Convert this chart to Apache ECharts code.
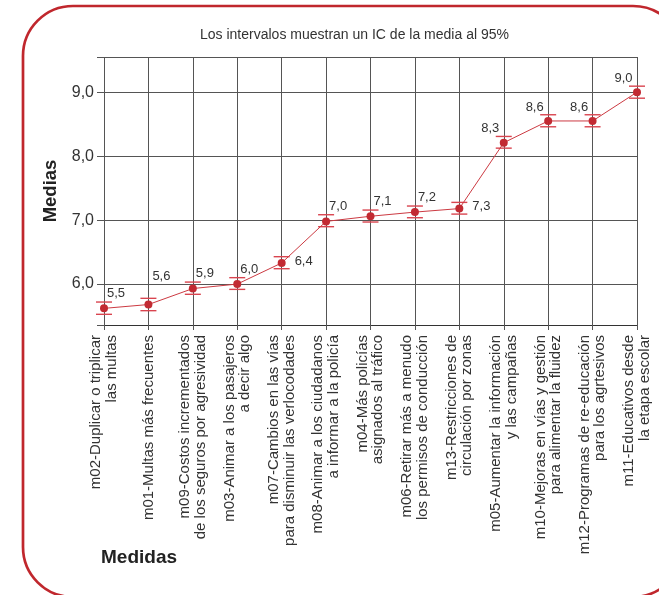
<!DOCTYPE html>
<html><head><meta charset="utf-8">
<script src="https://cdn.jsdelivr.net/npm/echarts@6/dist/echarts.min.js"></script>
<style>html,body{margin:0;padding:0;background:#fff;overflow:hidden}#c{width:659px;height:595px}</style>
</head><body><div id="c"></div>
<script>
const categories = [
  'm02-Duplicar o triplicar\nlas multas',
  'm01-Multas más frecuentes',
  'm09-Costos incrementados\nde los seguros por agresividad',
  'm03-Animar a los pasajeros\na decir algo',
  'm07-Cambios en las vías\npara disminuir las verlocodades',
  'm08-Animar a los ciudadanos\na informar a la policía',
  'm04-Más policías\nasignados al tráfico',
  'm06-Retirar más a menudo\nlos permisos de conducción',
  'm13-Restricciones de\ncirculación por zonas',
  'm05-Aumentar la información\ny las campañas',
  'm10-Mejoras en vías y gestión\npara alimentar la fluidez',
  'm12-Programas de re-educación\npara los agrtesivos',
  'm11-Educativos desde\nla etapa escolar'
];
const means = [5.62, 5.68, 5.93, 6.00, 6.33, 6.98, 7.06, 7.125, 7.18, 8.21, 8.55, 8.55, 9.00];
const ciLow = [5.527, 5.584, 5.84, 5.917, 6.24, 6.897, 6.97, 7.037, 7.094, 8.125, 8.459, 8.459, 8.906];
const ciHigh = [5.719, 5.777, 6.031, 6.10, 6.428, 7.084, 7.157, 7.22, 7.277, 8.308, 8.647, 8.647, 9.094];
const meanLabels = ['5,5', '5,6', '5,9', '6,0', '6,4', '7,0', '7,1', '7,2', '7,3', '8,3', '8,6', '8,6', '9,0'];
const yTickLabels = [6, 7, 8, 9];
const yMin = 5.36, yMax = 9.55;
const titleText = 'Los intervalos muestran un IC de la media al 95%';
const yName = 'Medias';
const xName = 'Medidas';

// label placement (style only)
const placements = { ur: [12, -15], urHigh: [13, -28.5], r: [22, -2], ul: [-13.5, -14] };
const labelPlace = ['ur', 'urHigh', 'ur', 'ur', 'r', 'ur', 'ur', 'ur', 'r', 'ul', 'ul', 'ul', 'ul'];

const FONT = '"Liberation Sans", Arial, sans-serif';
const chart = echarts.init(document.getElementById('c'), null, { renderer: 'canvas' });
const fmt = v => Number(v).toFixed(1).replace('.', ',');

// decorative rounded frame: only the parts that fall inside the view
const FR = { l: 23, t: 6, r: 683, b: 597, rad: 50 };
const frameStyle = { stroke: '#c0272d', lineWidth: 2.7, fill: null };
const P = Math.PI;
const frame = [
  { type: 'line', shape: { x1: FR.l + FR.rad, y1: FR.t, x2: FR.r - FR.rad, y2: FR.t } },
  { type: 'line', shape: { x1: FR.l, y1: FR.t + FR.rad, x2: FR.l, y2: FR.b - FR.rad } },
  { type: 'arc', shape: { cx: FR.l + FR.rad, cy: FR.t + FR.rad, r: FR.rad, startAngle: P, endAngle: 1.5 * P, clockwise: true } },
  { type: 'arc', shape: { cx: FR.l + FR.rad, cy: FR.b - FR.rad, r: FR.rad, startAngle: 0.5 * P, endAngle: P, clockwise: true } },
  { type: 'arc', shape: { cx: FR.r - FR.rad, cy: FR.t + FR.rad, r: FR.rad, startAngle: 1.5 * P, endAngle: 1.75 * P, clockwise: true } },
  { type: 'arc', shape: { cx: FR.r - FR.rad, cy: FR.b - FR.rad, r: FR.rad, startAngle: 0.3 * P, endAngle: 0.5 * P, clockwise: true } }
].map(e => Object.assign(e, { z: -10, silent: true, style: frameStyle }));

chart.setOption({
  animation: false,
  backgroundColor: '#fff',
  textStyle: { fontFamily: FONT },
  grid: { left: 104, right: 22, top: 57, bottom: 270, containLabel: false },
  graphic: frame.concat([
    { type: 'text', x: 200, y: 35, style: { text: titleText, font: '14px ' + FONT, fill: '#333', verticalAlign: 'middle', align: 'left' } },
    { type: 'text', x: 101, y: 558, style: { text: xName, font: 'bold 19px ' + FONT, fill: '#222', verticalAlign: 'middle', align: 'left' } }
  ]),
  xAxis: {
    type: 'category', data: categories, boundaryGap: false,
    axisLine: { show: true, lineStyle: { color: '#333', width: 1 } },
    axisTick: { show: true, length: 5, lineStyle: { color: '#555' } },
    splitLine: { show: true, lineStyle: { color: '#555', width: 1 } },
    axisLabel: { interval: 0, rotate: 90, fontSize: 15, lineHeight: 15.5, margin: 10, color: '#333', fontFamily: FONT }
  },
  yAxis: {
    type: 'value', min: yMin, max: yMax,
    name: yName, nameLocation: 'middle', nameRotate: 90, nameGap: 43,
    nameTextStyle: { fontSize: 18.5, fontWeight: 'bold', color: '#222', fontFamily: FONT },
    axisLine: { show: false },
    axisTick: { show: true, length: 7, customValues: [yMin].concat(yTickLabels, [yMax]), lineStyle: { color: '#555' } },
    axisLabel: { customValues: yTickLabels, formatter: fmt, fontSize: 16, color: '#333', margin: 10, fontFamily: FONT },
    splitLine: { show: true, lineStyle: { color: '#555', width: 1 } }
  },
  series: [
    {
      type: 'custom', z: 3,
      data: categories.map((c, i) => [i, ciLow[i], ciHigh[i]]),
      renderItem: function (params, api) {
        const lo = api.coord([api.value(0), api.value(1)]);
        const hi = api.coord([api.value(0), api.value(2)]);
        const w = 8;
        const style = { stroke: '#d9444f', lineWidth: 1.4 };
        return { type: 'group', children: [
          { type: 'line', shape: { x1: lo[0] - w, y1: lo[1], x2: lo[0] + w, y2: lo[1] }, style: style },
          { type: 'line', shape: { x1: hi[0] - w, y1: hi[1], x2: hi[0] + w, y2: hi[1] }, style: style }
        ] };
      }
    },
    {
      type: 'line', z: 4,
      symbol: 'circle', symbolSize: 8,
      itemStyle: { color: '#c22a32' },
      lineStyle: { color: '#cc3a42', width: 1 },
      data: means.map((v, i) => ({
        value: v,
        label: { show: true, formatter: meanLabels[i], position: 'inside', offset: placements[labelPlace[i]],
                 fontSize: 13, color: '#333', fontFamily: FONT }
      }))
    }
  ]
});
</script>
</body></html>
